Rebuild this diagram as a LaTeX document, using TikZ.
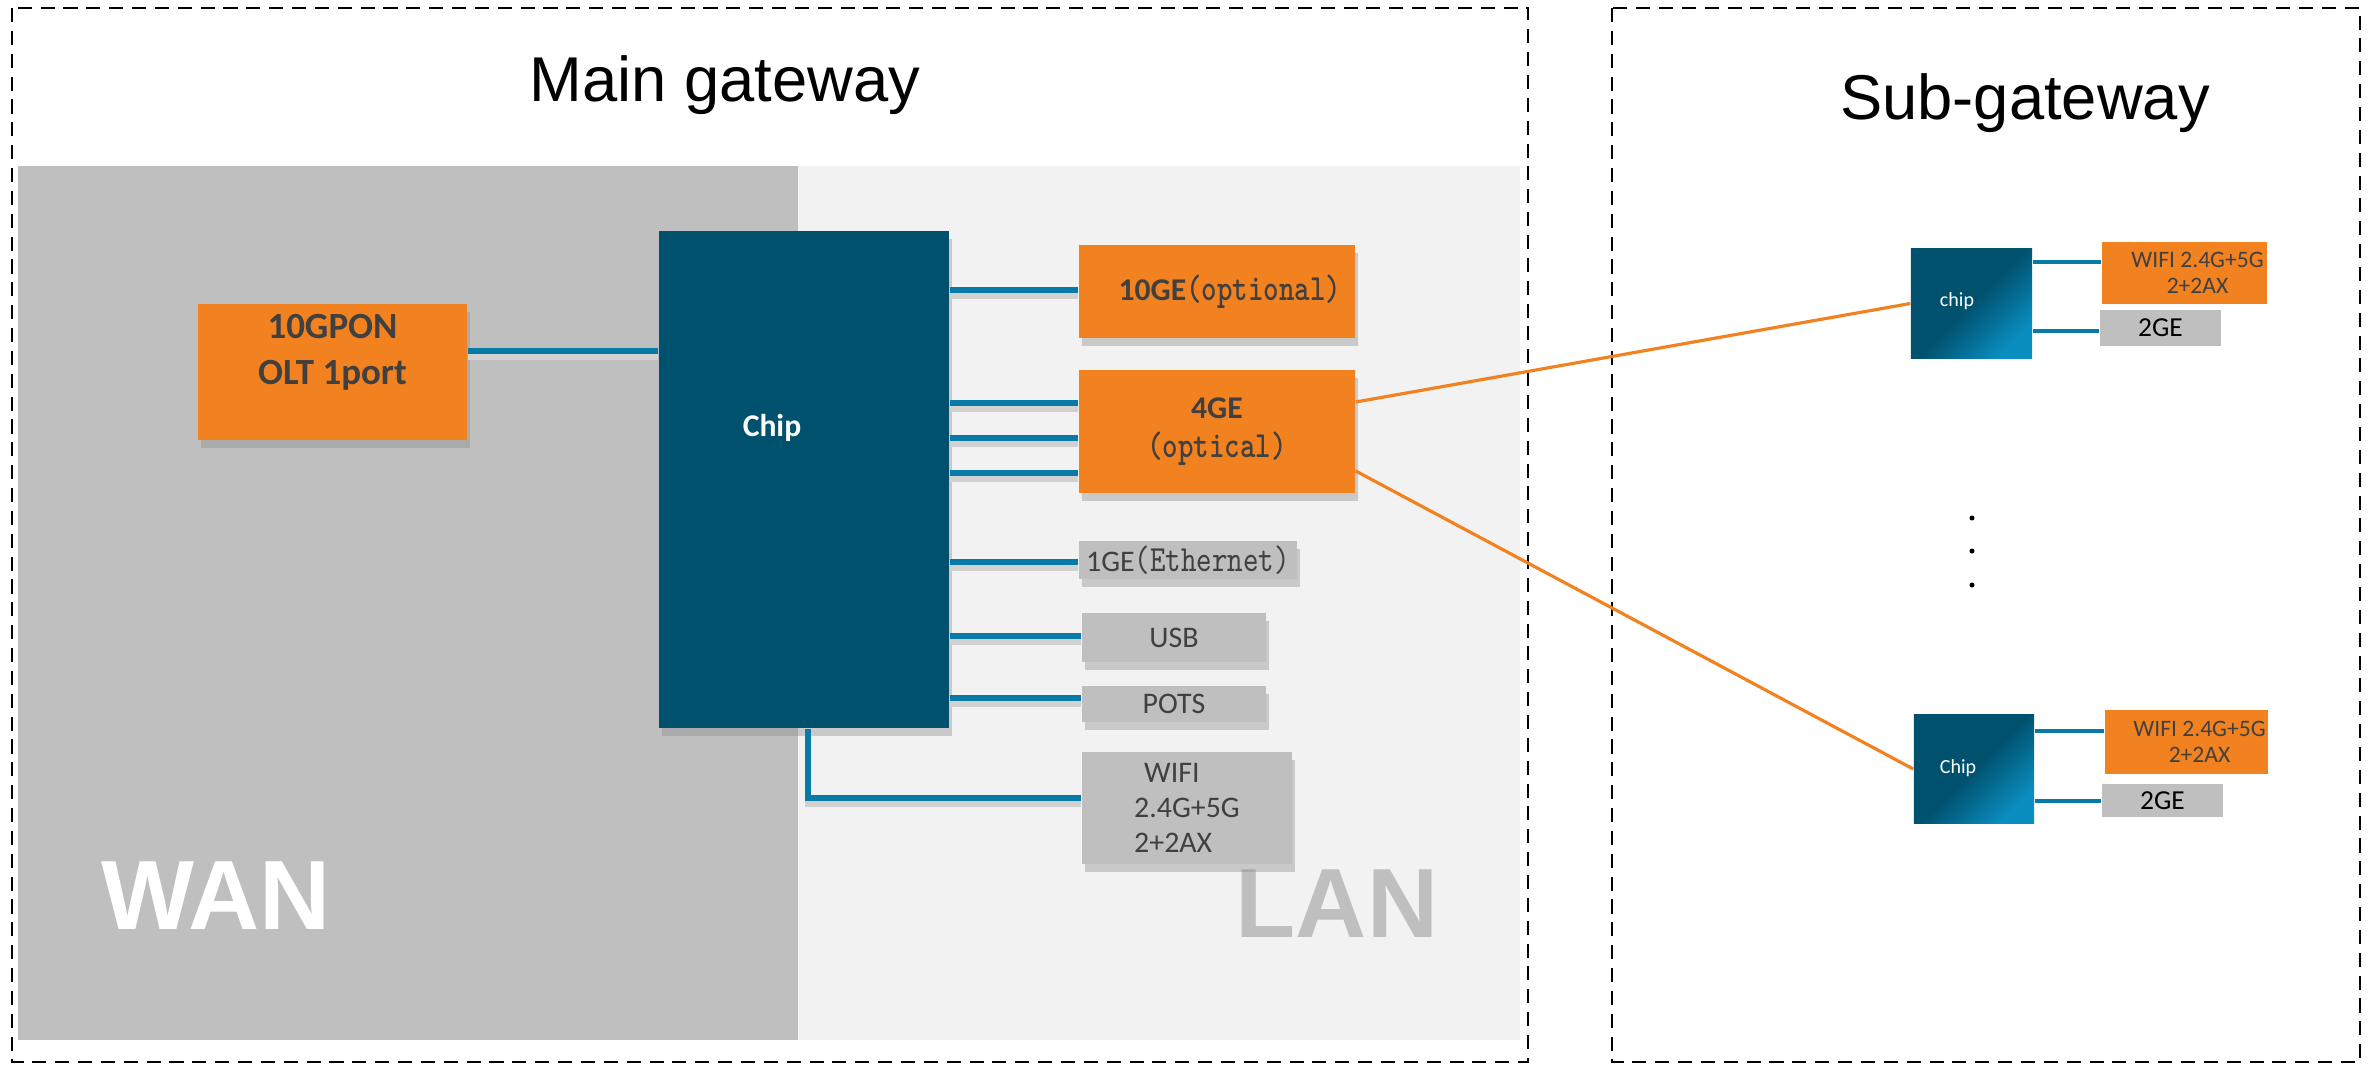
\documentclass[tikz,border=0pt]{standalone}
\usepackage{fontspec}
\usepackage{graphicx}
\setmainfont{Liberation Sans}
\newfontfamily\calib{Carlito}
\usetikzlibrary{shadows}
\definecolor{chipblue}{RGB}{0,81,110}
\definecolor{chiplight}{RGB}{10,142,192}
\definecolor{portorange}{RGB}{242,130,32}
\definecolor{wireblue}{RGB}{8,122,168}
\definecolor{boxgray}{RGB}{191,191,191}
\definecolor{lanbg}{RGB}{242,242,242}
\definecolor{txtgray}{RGB}{64,64,64}
\newcommand\monotxt[1]{\scalebox{0.8}[1]{\ttfamily\fontsize{10.5}{11}\selectfont #1}}
\begin{document}
\begin{tikzpicture}[x=0.01cm,y=-0.01cm,font=\calib]
	\draw[draw=none](0,0)rectangle(2369,1066);
	\clip(0,0)rectangle(2369,1066);
	\fill[white](0,0)rectangle(2369,1066);
	\tikzset{
	box-shadow/.style={drop shadow={shadow xshift=0.3mm,shadow yshift=-0.8mm,fill=black!45,opacity=0.4}},
	o-box/.style={fill=portorange,text=txtgray,inner sep=0pt,align=center,box-shadow,font=\calib\bfseries\fontsize{9}{11}\selectfont},
	g-box/.style={fill=boxgray,text=txtgray,inner sep=0pt,align=center,box-shadow,font=\calib\fontsize{8.5}{10}\selectfont},
	s-wifi/.style={fill=portorange,inner sep=0pt},
	s-ge/.style={fill=boxgray,text=black,inner sep=0pt,font=\calib\fontsize{7.8}{8}\selectfont},
	sub-chip/.style={inner sep=0pt,top color=chipblue,bottom color=chiplight,middle color=chipblue,shading angle=45},
	wire/.style={draw=wireblue,line width=1.7pt,preaction={draw=black!18,line width=1.7pt,transform canvas={yshift=-0.6mm}}},
	link/.style={draw=portorange,line width=0.9pt},
	gw-frame/.style={draw=black,line width=0.6pt,dash pattern=on 4pt off 2.5pt}
	}
	\fill[boxgray](18,166)rectangle(798,1040);
	\fill[lanbg](798,166)rectangle(1520,1040);
	\draw[gw-frame](12,8)rectangle(1528,1062) (1612,8)rectangle(2360,1062);
	\path(725,101)node[anchor=base,font=\rmfamily\fontsize{18}{20}\selectfont](t-main){Main gateway}
	(2025,119)node[anchor=base,font=\rmfamily\fontsize{18}{20}\selectfont](t-sub){Sub-gateway};
	\path(216,929)node[anchor=base,white,font=\rmfamily\bfseries\fontsize{28}{30}\selectfont](wan){WAN}
	(1337,937)node[anchor=base,text=boxgray,font=\rmfamily\bfseries\fontsize{28}{30}\selectfont](lan){LAN};
	\node[fill=chipblue,inner sep=0pt,minimum width=2.9cm,minimum height=4.97cm,box-shadow](chip) at (804,479.5){};
	\node[o-box,minimum width=2.69cm,minimum height=1.36cm,label={[yshift=0.2cm,align=center,text=txtgray,font=\calib\bfseries\fontsize{10.5}{13}\selectfont]center:{10GPON\\OLT 1port}}](gpon) at (332.5,372){};
	\node[o-box,minimum width=2.76cm,minimum height=0.93cm](ge10) at (1217,291.5){\hspace*{0.26cm}10GE\monotxt{(optional)}};
	\node[o-box,minimum width=2.76cm,minimum height=1.23cm](ge4) at (1217,431.5){4GE\\\monotxt{(optical)}};
	\node[g-box,minimum width=2.18cm,minimum height=0.38cm](ge1) at (1188,560){1GE\monotxt{(Ethernet)}};
	\node[g-box,minimum width=1.84cm,minimum height=0.49cm](usb) at (1174,637.5){USB};
	\node[g-box,minimum width=1.84cm,minimum height=0.36cm](pots) at (1174,704){POTS};
	\node[g-box,minimum width=2.1cm,minimum height=1.12cm,align=left](wifi) at (1187,808){\hspace{0.1cm}WIFI\\2.4G+5G\\2+2AX};
	\path(772,428)node[white,font=\calib\bfseries\fontsize{9}{9}\selectfont](chip-t){Chip};
	\draw[wire](gpon.east|-0,351)--(chip.west|-0,351);
	\foreach \y/\p in {290/ge10,403/ge4,438/ge4,473/ge4,562/ge1,636/usb,698/pots}
	\draw[wire](chip.east|-0,\y)--(\p.west|-0,\y);
	\draw[wire](chip.south-|808,0)|-(wifi.west|-0,798);
	\node[sub-chip,minimum width=1.21cm,minimum height=1.09cm](c1) at (1971.5,303.5){};
	\node[sub-chip,minimum width=1.2cm,minimum height=1.08cm](c2) at (1974,769){};
	\path(1957,301)node[white,font=\calib\fontsize{5.7}{6}\selectfont](c1-t){chip}
	(1958,768)node[white,font=\calib\fontsize{5.7}{6}\selectfont](c2-t){Chip};
	\foreach \n/\x/\y/\w/\h in {w1/2184.5/273/1.65/0.62,w2/2186.5/742/1.63/0.64}
	\node[s-wifi,minimum width=\w cm,minimum height=\h cm,label={[xshift=0.13cm,align=center,text=txtgray,font=\calib\fontsize{6.7}{7.5}\selectfont]center:{WIFI 2.4G+5G\\2+2AX}}](\n) at (\x,\y){};
	\node[s-ge,minimum width=1.21cm,minimum height=0.36cm](g1) at (2160.5,328){2GE};
	\node[s-ge,minimum width=1.21cm,minimum height=0.33cm](g2) at (2162.5,800.5){2GE};
	\foreach \c/\y/\p in {c1/262/w1,c1/331/g1,c2/731/w2,c2/801/g2}
	\draw[draw=wireblue,line width=1.4pt](\c.east|-0,\y)--(\p.west|-0,\y);
	\draw[link]([yshift=0.295cm]ge4.east)--(c1.west);
	\draw[link]([yshift=-0.395cm]ge4.east)--(c2.west);
	\foreach \y in {518,551,585}
	\fill(1972,\y)circle(2.5);
\end{tikzpicture}
\end{document}
